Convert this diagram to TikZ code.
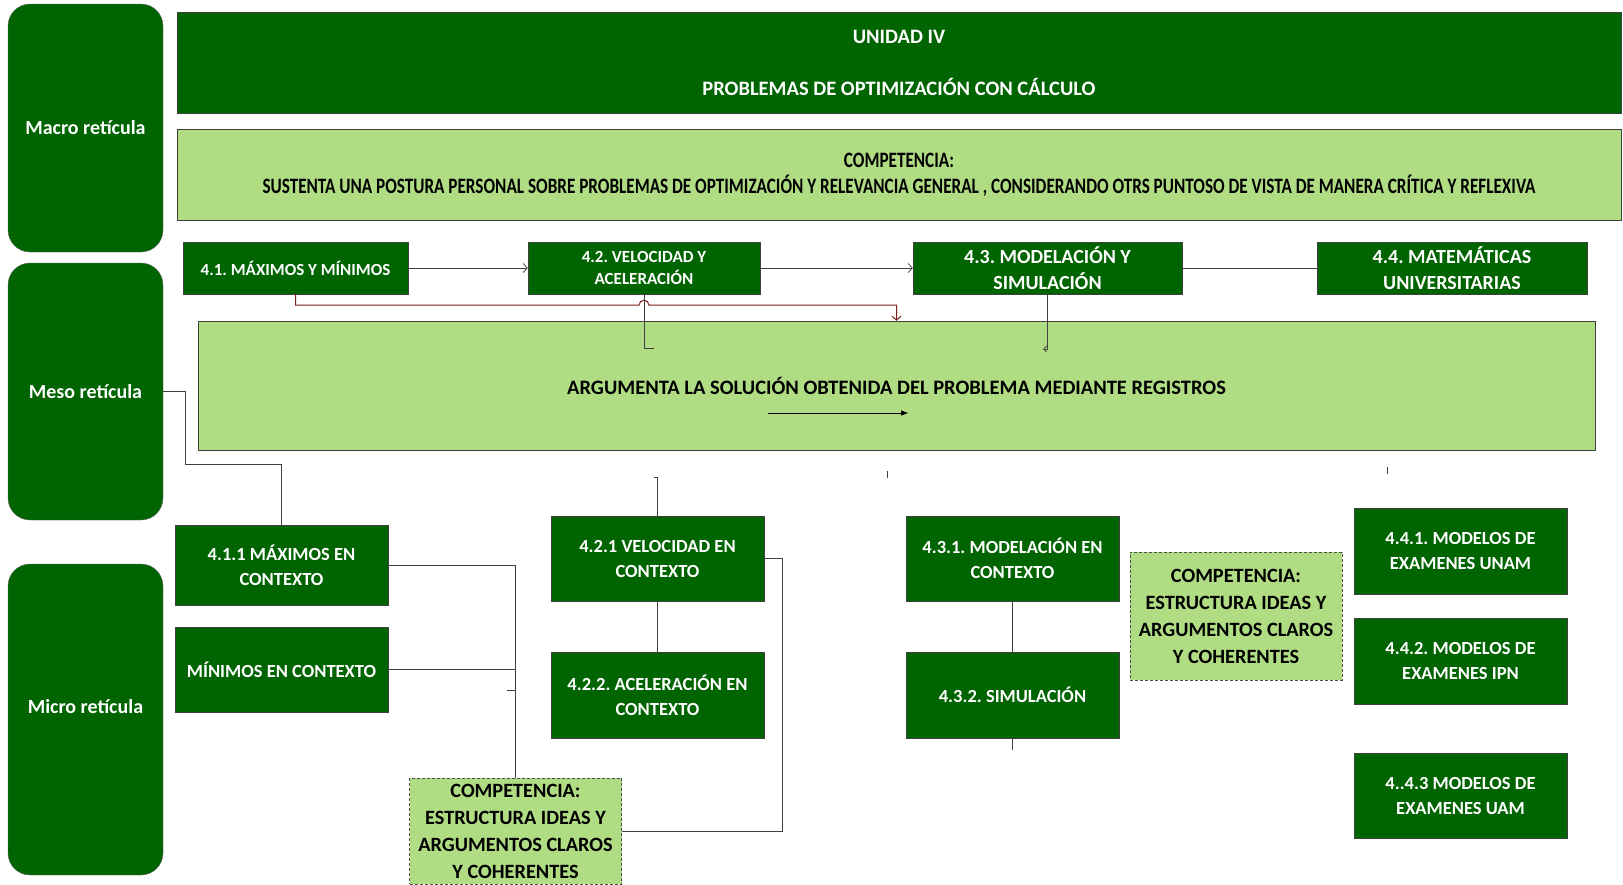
\documentclass[tikz,border=0pt]{standalone}
\usepackage{fontspec}
\setmainfont{Carlito}
\newfontfamily\narrowfont{Carlito}[FakeStretch=0.78]
\usetikzlibrary{arrows.meta}
\definecolor{verde}{RGB}{0,100,0}
\definecolor{verdeclaro}{RGB}{176,221,131}
\definecolor{rojo}{RGB}{128,28,28}
\definecolor{linea}{RGB}{64,64,64}
\frenchspacing

\begin{document}
\begin{tikzpicture}[x=1pt,y=-1pt,
  nivel/.style={draw=black!60,fill=verde,rounded corners=22pt,minimum width=155pt,text=white,font=\fontsize{20}{24}\selectfont\bfseries},
  tema/.style={draw=black!75,fill=verde,text=white,align=center,inner sep=2pt},
  claro/.style={draw=black!75,fill=verdeclaro,align=center,inner sep=2pt},
  compet/.style={draw=black!70,densely dashed,fill=verdeclaro,align=center,inner sep=2pt,minimum width=212pt,font=\fontsize{20.3}{27}\selectfont\bfseries},
  chico/.style={font=\fontsize{17}{22}\selectfont\bfseries},
  grande/.style={font=\fontsize{20}{26}\selectfont\bfseries},
  medio/.style={minimum width=213pt,font=\fontsize{18.5}{25}\selectfont\bfseries},
  conector/.style={draw=linea,line width=0.8pt},
  punta/.style={-{Straight Barb[length=4pt,width=9pt]}}]
\useasboundingbox (0,0) rectangle (1623,884);

% niveles
\node[nivel,minimum height=248pt] (macro) at (85.5,128) {Macro retícula};
\node[nivel,minimum height=257pt] (meso) at (85.5,391.5) {Meso retícula};
\node[nivel,minimum height=311pt] (micro) at (85.5,719.5) {\raisebox{26pt}{Micro retícula}};

% macro
\node[tema,minimum width=1444pt,minimum height=101pt,font=\fontsize{20.5}{26}\selectfont\bfseries] (unidad) at (899,62.5)
  {UNIDAD IV\\[26pt]PROBLEMAS DE OPTIMIZACIÓN CON CÁLCULO};
\node[claro,minimum width=1444pt,minimum height=91pt,font=\fontsize{22}{26}\selectfont\bfseries\narrowfont] (comp) at (899,174.5)
  {COMPETENCIA:\\SUSTENTA UNA POSTURA PERSONAL SOBRE PROBLEMAS DE OPTIMIZACIÓN Y RELEVANCIA GENERAL , CONSIDERANDO OTRS PUNTOSO DE VISTA DE MANERA CRÍTICA Y REFLEXIVA};

% meso
\node[tema,chico,minimum width=225pt,minimum height=52pt] (t41) at (295.5,268) {4.1. MÁXIMOS Y MÍNIMOS};
\node[tema,chico,minimum width=232pt,minimum height=52pt] (t42) at (644,268) {4.2. VELOCIDAD Y\\ACELERACIÓN};
\node[tema,grande,minimum width=269pt,minimum height=52pt] (t43) at (1047.5,268) {4.3. MODELACIÓN Y\\SIMULACIÓN};
\node[tema,grande,minimum width=270pt,minimum height=52pt] (t44) at (1452,268) {4.4. MATEMÁTICAS\\UNIVERSITARIAS};
\node[claro,minimum width=1397pt,minimum height=129pt,font=\fontsize{20.5}{24}\selectfont\bfseries] (argu) at (896.5,385.5)
  {ARGUMENTA LA SOLUCIÓN OBTENIDA DEL PROBLEMA MEDIANTE REGISTROS};

% micro
\node[tema,medio,minimum height=80pt] (t411) at (281.5,565) {4.1.1 MÁXIMOS EN\\CONTEXTO};
\node[tema,medio,minimum height=85pt] (tmin) at (281.5,669.5) {MÍNIMOS EN CONTEXTO};
\node[tema,medio,minimum height=85pt] (t421) at (657.5,558.5) {4.2.1 VELOCIDAD EN\\CONTEXTO};
\node[tema,medio,minimum height=86pt] (t422) at (657.5,695) {4.2.2. ACELERACIÓN EN\\CONTEXTO};
\node[compet,minimum height=106pt] (compA) at (515.5,831) {COMPETENCIA:\\ESTRUCTURA IDEAS Y\\ARGUMENTOS CLAROS\\Y COHERENTES};
\node[tema,medio,minimum height=85pt] (t431) at (1012.5,558.5) {4.3.1. MODELACIÓN EN\\CONTEXTO};
\node[tema,medio,minimum height=86pt] (t432) at (1012.5,695) {4.3.2. SIMULACIÓN};
\node[compet,minimum height=128pt] (compB) at (1236,616) {COMPETENCIA:\\ESTRUCTURA IDEAS Y\\ARGUMENTOS CLAROS\\Y COHERENTES};
\node[tema,medio,minimum height=86pt] (t441) at (1460.5,551) {4.4.1. MODELOS DE\\EXAMENES UNAM};
\node[tema,medio,minimum height=86pt] (t442) at (1460.5,661) {4.4.2. MODELOS DE\\EXAMENES IPN};
\node[tema,medio,minimum height=85pt] (t443) at (1460.5,795.5) {4..4.3 MODELOS DE\\EXAMENES UAM};

% puntos sueltos
\path (t42.south) ++(0,11) coordinate (hop);
\coordinate (e42) at (654,348);
\coordinate (e43) at (1043,349);
\coordinate (a1) at (768,413);
\coordinate (a2) at (908,413);
\coordinate (m1) at (185,464);
\coordinate (k1) at (887,471);
\coordinate (k2) at (1387,467);
\coordinate (v42) at (654,477);
\coordinate (tk) at (507,690);

% conectores
\draw[conector,punta] (t41) -- (t42);
\draw[conector,punta] (t42) -- (t43);
\draw[conector] (t43) -- (t44);
\draw[rojo,line width=1pt,punta] (t41.south) |- ([xshift=-5pt]hop) arc[start angle=180,end angle=0,radius=5pt] -| (argu.north);
\draw[conector] (t42.south) |- (e42);
\draw[conector,-{Straight Barb[length=3pt,width=6pt]}] (t43.south) |- (e43);
\draw[black,line width=0.9pt,-{Triangle[length=7pt,width=5pt]}] (a1) -- (a2);
\draw[conector] (meso.east) -| (m1) -| (t411.north);
\draw[conector] (k1) -- ++(0,7);
\draw[conector] (k2) -- ++(0,7);
\draw[conector] (v42) -| (t421.north);
\draw[conector] (t411.east) -| (compA.north);
\draw[conector] (tmin.east) -- (compA.north |- tmin.east);
\draw[conector] (tk) -- (compA.north |- tk);
\draw[conector] (t421.east) -- ++(18,0) |- (compA.east);
\draw[conector] (t421) -- (t422);
\draw[conector] (t431) -- (t432);
\draw[conector] (t432.south) -- ++(0,12);
\end{tikzpicture}
\end{document}
